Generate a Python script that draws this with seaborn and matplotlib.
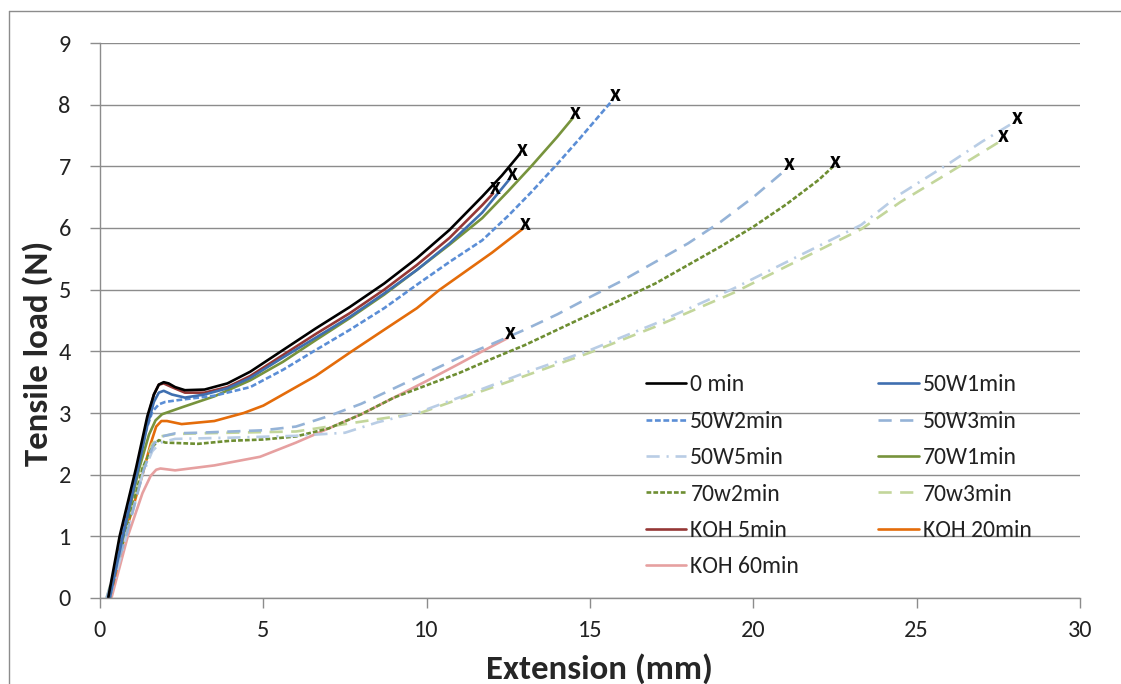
import matplotlib
matplotlib.use("Agg")
import matplotlib.pyplot as plt
from matplotlib.lines import Line2D
import seaborn as sns
import pandas as pd

# Tensile load (N) versus extension (mm) for each treatment
x_0min = [0.25, 0.6, 1.1, 1.45, 1.65, 1.8, 1.95, 2.1, 2.3, 2.6, 3.2, 3.9, 4.6, 5.6, 6.6, 7.65, 8.7, 9.7, 10.7, 11.7, 12.3, 12.85]
y_0min = [0.0, 1.0, 2.1, 2.95, 3.3, 3.46, 3.5, 3.48, 3.42, 3.37, 3.38, 3.48, 3.67, 4.02, 4.37, 4.72, 5.1, 5.51, 5.97, 6.51, 6.85, 7.2]

x_50w1 = [0.3, 0.7, 1.15, 1.45, 1.65, 1.8, 1.95, 2.2, 2.6, 3.2, 3.9, 4.6, 5.6, 6.6, 7.65, 8.7, 9.7, 10.7, 11.7, 12.55]
y_50w1 = [0.0, 1.0, 2.05, 2.8, 3.18, 3.33, 3.36, 3.3, 3.25, 3.3, 3.4, 3.57, 3.9, 4.22, 4.56, 4.94, 5.32, 5.75, 6.25, 6.8]

x_50w2 = [0.25, 0.65, 1.1, 1.4, 1.6, 1.8, 2.0, 2.55, 3.5, 4.6, 5.6, 6.6, 7.65, 8.7, 9.7, 10.7, 11.7, 12.5, 13.2, 14.0, 14.7, 15.2, 15.7]
y_50w2 = [0.0, 1.0, 2.05, 2.7, 3.02, 3.14, 3.18, 3.22, 3.28, 3.42, 3.7, 4.02, 4.35, 4.7, 5.08, 5.45, 5.8, 6.2, 6.58, 7.04, 7.46, 7.77, 8.08]

x_50w3 = [0.2, 0.8, 1.35, 1.65, 1.9, 2.3, 3.0, 4.0, 5.0, 6.0, 7.0, 8.0, 9.0, 10.0, 11.0, 12.0, 13.0, 14.0, 15.0, 16.0, 17.0, 18.0, 19.0, 20.0, 21.05]
y_50w3 = [0.0, 1.0, 2.1, 2.5, 2.62, 2.67, 2.68, 2.7, 2.72, 2.78, 2.95, 3.15, 3.4, 3.65, 3.9, 4.12, 4.35, 4.6, 4.88, 5.15, 5.45, 5.75, 6.1, 6.5, 6.97]

x_50w5 = [0.3, 0.8, 1.3, 1.6, 1.85, 2.3, 4.0, 6.0, 7.5, 8.5, 9.8, 11.5, 13.0, 15.0, 17.0, 19.4, 21.4, 23.3, 24.5, 26.0, 27.0, 28.0]
y_50w5 = [0.0, 1.0, 2.0, 2.38, 2.52, 2.58, 2.6, 2.63, 2.68, 2.85, 3.02, 3.35, 3.65, 4.02, 4.45, 5.02, 5.55, 6.05, 6.55, 7.05, 7.4, 7.72]

x_70w1 = [0.3, 0.7, 1.2, 1.5, 1.7, 1.9, 2.55, 3.5, 4.6, 5.6, 6.6, 7.65, 8.7, 9.7, 10.7, 11.7, 12.5, 13.2, 14.0, 14.5]
y_70w1 = [0.0, 1.0, 2.1, 2.65, 2.88, 2.98, 3.1, 3.27, 3.53, 3.83, 4.18, 4.54, 4.92, 5.32, 5.73, 6.16, 6.6, 7.0, 7.48, 7.8]

x_70w2 = [0.25, 0.75, 1.3, 1.6, 1.8, 2.0, 3.0, 4.0, 5.0, 6.0, 7.0, 8.0, 9.0, 10.0, 11.0, 12.0, 13.0, 14.0, 15.0, 16.0, 17.0, 18.0, 19.0, 20.0, 21.0, 22.0, 22.45]
y_70w2 = [0.0, 1.0, 2.1, 2.45, 2.56, 2.52, 2.5, 2.55, 2.57, 2.62, 2.75, 2.98, 3.25, 3.45, 3.65, 3.88, 4.1, 4.35, 4.6, 4.85, 5.1, 5.4, 5.7, 6.02, 6.38, 6.78, 7.0]

x_70w3 = [0.2, 0.8, 1.3, 1.6, 1.85, 2.3, 4.0, 6.0, 7.5, 8.5, 9.8, 11.5, 13.0, 15.0, 17.0, 19.4, 21.4, 23.3, 24.5, 26.0, 27.6]
y_70w3 = [0.0, 1.1, 2.1, 2.5, 2.62, 2.66, 2.68, 2.7, 2.82, 2.9, 3.0, 3.32, 3.6, 3.98, 4.4, 4.95, 5.48, 5.98, 6.42, 6.9, 7.42]

x_koh5 = [0.3, 0.65, 1.12, 1.45, 1.65, 1.8, 1.95, 2.2, 2.6, 3.2, 3.9, 4.6, 5.6, 6.6, 7.65, 8.7, 9.7, 10.7, 11.7, 12.05]
y_koh5 = [0.0, 1.0, 2.05, 2.9, 3.3, 3.46, 3.48, 3.42, 3.33, 3.33, 3.42, 3.6, 3.94, 4.28, 4.62, 5.0, 5.4, 5.84, 6.37, 6.57]

x_koh20 = [0.3, 0.75, 1.3, 1.55, 1.72, 1.88, 2.05, 2.5, 3.5, 4.4, 5.0, 5.6, 6.6, 7.65, 8.7, 9.7, 10.4, 11.2, 12.0, 12.95]
y_koh20 = [0.0, 1.0, 2.0, 2.5, 2.78, 2.87, 2.87, 2.82, 2.87, 3.0, 3.12, 3.3, 3.6, 3.98, 4.35, 4.7, 5.0, 5.3, 5.6, 5.99]

x_koh60 = [0.35, 0.85, 1.3, 1.55, 1.72, 1.85, 2.3, 3.5, 4.9, 6.0, 7.0, 8.0, 9.0, 10.0, 11.0, 11.7, 12.5]
y_koh60 = [0.0, 1.0, 1.7, 1.98, 2.08, 2.1, 2.07, 2.15, 2.29, 2.52, 2.75, 2.98, 3.25, 3.52, 3.8, 4.0, 4.22]

labels = ["0 min", "50W1min", "50W2min", "50W3min", "50W5min", "70W1min",
          "70w2min", "70w3min", "KOH 5min", "KOH 20min", "KOH 60min"]
xs = [x_0min, x_50w1, x_50w2, x_50w3, x_50w5, x_70w1, x_70w2, x_70w3, x_koh5, x_koh20, x_koh60]
ys = [y_0min, y_50w1, y_50w2, y_50w3, y_50w5, y_70w1, y_70w2, y_70w3, y_koh5, y_koh20, y_koh60]

colors = {
    "0 min": "#000000",
    "50W1min": "#3F6FB0",
    "50W2min": "#5B8ED6",
    "50W3min": "#95B3D7",
    "50W5min": "#B9CDE5",
    "70W1min": "#77933C",
    "70w2min": "#6E8E32",
    "70w3min": "#C3D69B",
    "KOH 5min": "#953735",
    "KOH 20min": "#E46C0A",
    "KOH 60min": "#E6A0A0",
}
dashes = {
    "0 min": "",
    "50W1min": "",
    "50W2min": (2.2, 1.0),
    "50W3min": (5.0, 3.2),
    "50W5min": (5.0, 2.6, 0.8, 2.6),
    "70W1min": "",
    "70w2min": (1.8, 0.8),
    "70w3min": (5.0, 3.2),
    "KOH 5min": "",
    "KOH 20min": "",
    "KOH 60min": "",
}

frames = []
for lab, xv, yv in zip(labels, xs, ys):
    frames.append(pd.DataFrame({"Extension": xv, "Load": yv, "Sample": lab}))
df = pd.concat(frames, ignore_index=True)

sns.set_theme(style="white")
plt.rcParams["font.family"] = ["Carlito", "Lato", "DejaVu Sans"]

fig = plt.figure(figsize=(11.21, 6.84), dpi=100)
ax = fig.add_axes([100 / 1121, 1 - 598 / 684, 980 / 1121, 555 / 684])

grid_c = "#8C8C8C"
for y in range(0, 10):
    ax.axhline(y, color=grid_c, lw=1.0, zorder=0)

lw = 1.9
# draw in reverse so the dark solid curves sit on top
for lab in labels[::-1]:
    sub = df[df["Sample"] == lab]
    sns.lineplot(data=sub, x="Extension", y="Load", sort=False, estimator=None,
                 color=colors[lab], lw=lw, ax=ax, legend=False)
    line = ax.get_lines()[-1]
    if dashes[lab]:
        line.set_dashes(dashes[lab])
    line.set_solid_capstyle("butt")
    line.set_dash_capstyle("butt")
    line.set_solid_joinstyle("round")

# failure point of every specimen
for lab, xv, yv in zip(labels, xs, ys):
    ax.annotate("x", xy=(xv[-1], yv[-1]), xytext=(1.5, 3.5), textcoords="offset points",
                ha="center", va="center", fontsize=17, fontweight="bold",
                color="black", zorder=5)

ax.set_xlim(0, 30)
ax.set_ylim(0, 9)
ax.set_xticks(range(0, 31, 5))
ax.set_yticks(range(0, 10))
ax.tick_params(axis="both", which="major", direction="out", length=7, width=1,
               color=grid_c, labelsize=17.5, labelcolor="#222222", left=True, bottom=True)
ax.tick_params(axis="y", pad=14)
ax.tick_params(axis="x", pad=9)
for s in ["top", "right"]:
    ax.spines[s].set_visible(False)
for s in ["left", "bottom"]:
    ax.spines[s].set_color(grid_c)
    ax.spines[s].set_linewidth(1.0)

ax.set_xlabel("Extension (mm)", fontsize=25, fontweight="bold")
ax.set_ylabel("Tensile load (N)", fontsize=25, fontweight="bold")
ax.xaxis.set_label_coords(0.510, -0.100)
ax.yaxis.set_label_coords(-0.048, 0.44)

# legend is filled row by row, two entries per row
order = [0, 2, 4, 6, 8, 10, 1, 3, 5, 7, 9]
handles = []
for i in order:
    lab = labels[i]
    h = Line2D([0], [0], color=colors[lab], lw=lw)
    if dashes[lab]:
        h.set_dashes(dashes[lab])
    handles.append(h)
ax.legend(handles, [labels[i] for i in order], ncol=2, frameon=False, loc="upper left",
          bbox_to_anchor=(0.535, 0.441), fontsize=17, handlelength=1.7,
          handletextpad=0.2, columnspacing=3.35, labelspacing=0.65,
          labelcolor="#222222")

# outer frame of the chart area
fig.add_artist(Line2D([9 / 1121, 1.0], [1 - 11 / 684, 1 - 11 / 684], color="#8C8C8C", lw=1.0))
fig.add_artist(Line2D([9 / 1121, 9 / 1121], [0.0, 1 - 11 / 684], color="#8C8C8C", lw=1.0))

fig.savefig("out.png", dpi=100, facecolor="white")
